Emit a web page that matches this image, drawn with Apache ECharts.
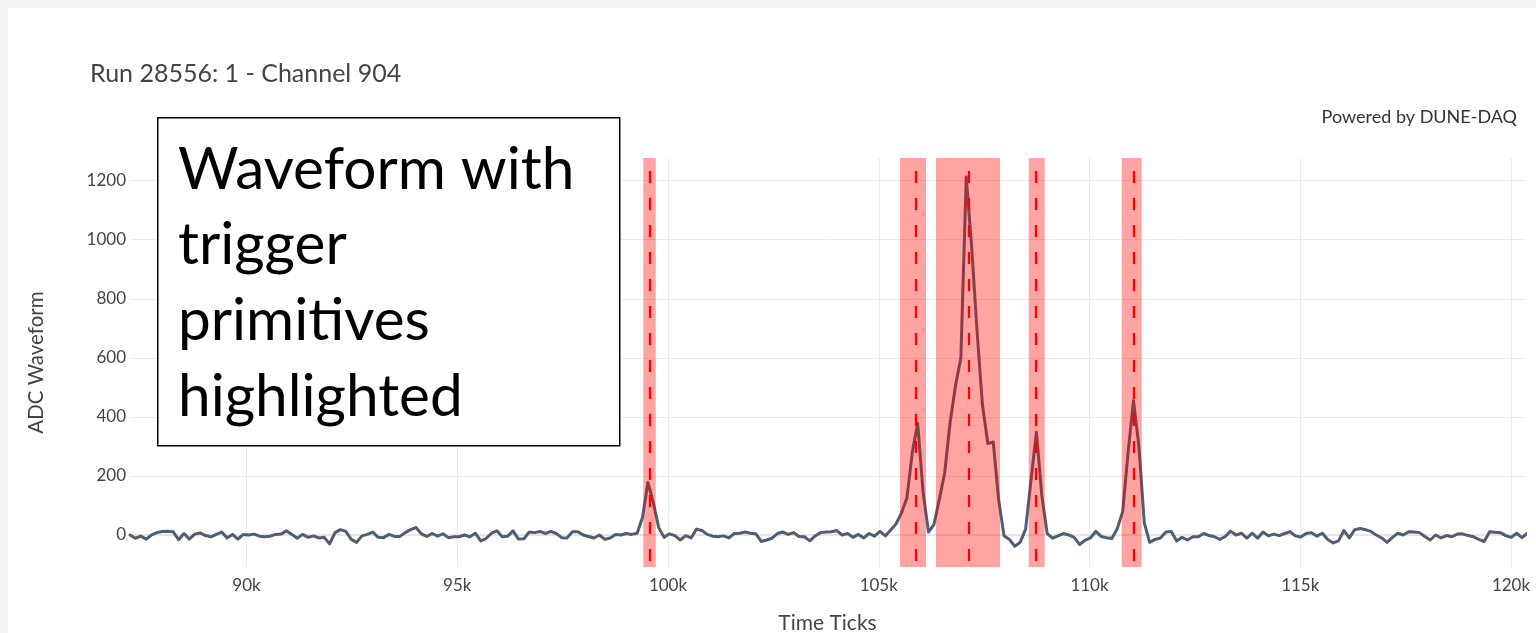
<!DOCTYPE html>
<html>
<head>
<meta charset="utf-8">
<script src="https://cdn.jsdelivr.net/npm/echarts@6/dist/echarts.min.js"></script>
<style>
  html, body { margin: 0; padding: 0; background: #f3f3f3; }
  #card { position: absolute; left: 8px; top: 8px; right: 0; bottom: 0; background: #fff; }
  #chart { position: absolute; left: 0; top: 0; width: 1536px; height: 633px; }
</style>
</head>
<body>
<div id="card"></div>
<div id="chart"></div>
<script>
// ---- data ----
const titleText = 'Run 28556: 1 - Channel 904';
const poweredText = 'Powered by DUNE-DAQ';
const boxText = ['Waveform with', 'trigger', 'primitives', 'highlighted'];
const xTitle = 'Time Ticks';
const yTitle = 'ADC Waveform';

const startTick = 87236;
const tickStep = 128;
const adc = [
  0, -11, -4, -14, 0, 8, 12, 13, 11, -16,
  5, -14, 3, 7, -2, -6, 2, 10, -10, 2,
  -14, 2, 0, 3, -4, -6, -4, 2, 3, 14,
  2, -11, 2, -8, -3, -10, -8, -30, 8, 18,
  12, -15, -25, -3, 2, 10, -8, -9, 2, -5,
  -5, 8, 18, 25, 4, -5, 5, -4, 4, -9,
  -6, -6, 0, -6, 6, -20, -12, 6, 14, -6,
  -4, 14, -14, -13, 10, 8, 12, 5, 12, 5,
  -9, -10, 11, 11, 0, -5, -10, 0, -15, -10,
  2, 0, 5, 2, 6, 60, 178, 110, 25, -8,
  4, -2, -17, -2, -10, 20, 15, 2, -4, -6,
  -3, -10, 5, 6, 10, 6, 4, -22, -17, -11,
  5, 10, 2, 8, -5, -6, -20, -3, 8, 10,
  11, 15, 0, 5, -8, 2, -10, 5, -4, 12,
  -3, 17, 38, 75, 125, 280, 378, 145, 10, 35,
  120, 210, 380, 505, 600, 1212, 975, 690, 440, 310,
  315, 120, -3, -15, -38, -25, 20, 185, 348, 135,
  5, -11, -3, 5, 0, -8, -32, -18, -10, 12,
  -5, -9, -12, 22, 80, 280, 455, 300, 40, -25,
  -15, -10, 10, 12, -20, -8, -17, -6, -6, 5,
  -2, -6, -15, -5, 13, 0, 6, -11, 6, -11,
  10, -3, 3, -2, 5, 11, -3, -7, 5, 8,
  -4, 6, -15, -27, -20, 15, -10, 18, 22, 18,
  12, 0, -10, -25, -8, 6, 0, 11, 10, 8,
  -5, -17, 0, -10, -2, -6, 3, 4, -2, -6,
  -15, -22, 11, 9, 8, -2, -8, 6, -9, 6
];

// trigger primitives: start, end, peak time (ticks)
const tpStart = [99414, 105504, 106358, 108557, 110764];
const tpEnd   = [99708, 106121, 107877, 108937, 111238];
const tpPeak  = [99556, 105884, 107124, 108714, 111055];

const xRange = [87236, 120332];
const yRange = [-108.4, 1276.7];
const xStep = 5000;
const yStep = 200;

// ---- chart ----
const FONT = 'Lato, "Open Sans", sans-serif';
const wave = adc.map((v, i) => [startTick + i * tickStep, v]);

const chart = echarts.init(document.getElementById('chart'), null, { renderer: 'canvas' });
chart.setOption({
  animation: false,
  backgroundColor: 'transparent',
  textStyle: { fontFamily: FONT },
  title: {
    text: titleText,
    left: 90, top: 61, padding: 0,
    textStyle: { fontFamily: FONT, fontSize: 25, fontWeight: 'normal', color: '#444' }
  },
  grid: { left: 130, right: 11, top: 158, bottom: 66, containLabel: false, outerBoundsMode: 'none' },
  xAxis: {
    type: 'value',
    min: xRange[0], max: xRange[1],
    minInterval: xStep, maxInterval: xStep, splitNumber: 6,
    name: xTitle, nameLocation: 'middle', nameGap: 46,
    nameTextStyle: { fontFamily: FONT, fontSize: 21, color: '#444' },
    axisLine: { show: false }, axisTick: { show: false },
    axisLabel: {
      fontFamily: FONT, fontSize: 17, color: '#444', margin: 10,
      showMinLabel: false, showMaxLabel: false,
      formatter: v => (v / 1000) + 'k'
    },
    splitLine: { show: true, showMinLine: false, showMaxLine: false, lineStyle: { color: '#ebebeb', width: 1 } }
  },
  yAxis: {
    type: 'value',
    min: yRange[0], max: yRange[1],
    minInterval: yStep, maxInterval: yStep, splitNumber: 7,
    name: yTitle, nameLocation: 'middle', nameGap: 83,
    nameTextStyle: { fontFamily: FONT, fontSize: 20.5, color: '#444' },
    axisLine: { show: false }, axisTick: { show: false },
    axisLabel: {
      fontFamily: FONT, fontSize: 17, color: '#444', margin: 4,
      padding: [3, 0, 0, 0],
      showMinLabel: false, showMaxLabel: false,
      formatter: v => String(v)
    },
    splitLine: { show: true, showMinLine: false, showMaxLine: false, lineStyle: { color: '#ebebeb', width: 1 } }
  },
  series: [
    {
      type: 'line', data: [], z: 1, silent: true,
      markLine: {
        z: 1, silent: true, symbol: ['none', 'none'], label: { show: false },
        lineStyle: { color: '#e6e6e6', width: 2, type: 'solid' },
        data: [{ yAxis: 0 }]
      }
    },
    {
      type: 'line', data: wave, z: 2, showSymbol: false, smooth: false,
      lineStyle: { color: '#4f5e70', width: 3, cap: 'round', join: 'round' },
      silent: true
    },
    {
      type: 'line', data: [], z: 3, silent: true,
      markArea: {
        z: 3, silent: true,
        itemStyle: { color: 'rgba(255,0,0,0.36)', borderWidth: 0 },
        data: tpStart.map((s, k) => [{ xAxis: s }, { xAxis: tpEnd[k] }])
      },
      markLine: {
        z: 4, silent: true, symbol: ['none', 'none'], label: { show: false },
        lineStyle: { color: '#ff0000', width: 2.3, type: [12, 15], dashOffset: 14, opacity: 1 },
        data: tpPeak.map(p => [{ coord: [p, yRange[1]] }, { coord: [p, yRange[0]] }])
      }
    }
  ],
  graphic: [
    {
      type: 'text', right: 1536 - 1517, top: 108, z: 50,
      style: { text: poweredText, font: '18px ' + FONT, fill: '#333' }
    },
    {
      type: 'rect', left: 157, top: 117, z: 100,
      shape: { width: 462, height: 328 },
      style: { fill: '#ffffff', stroke: '#000000', lineWidth: 1.5 }
    },
    {
      type: 'text', left: 178, top: 132, z: 101,
      style: { text: boxText.join('\n'), font: '58.5px ' + FONT, fill: '#000', lineHeight: 75.7 }
    }
  ]
});
</script>
</body>
</html>
